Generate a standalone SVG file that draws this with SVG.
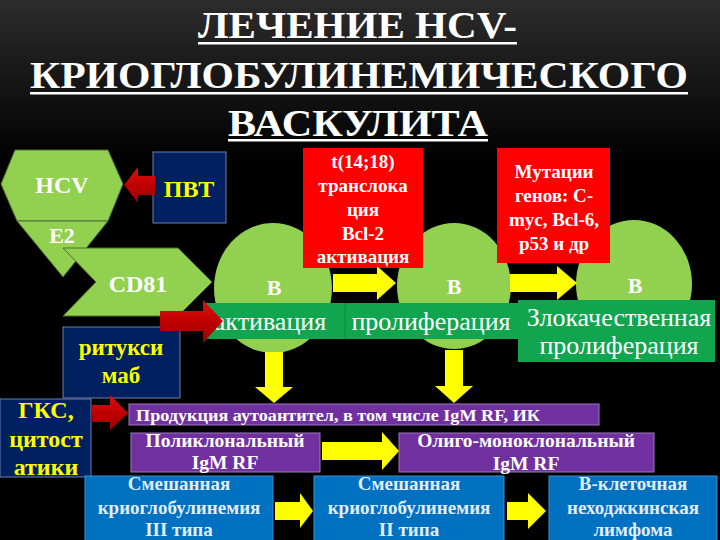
<svg xmlns="http://www.w3.org/2000/svg" width="720" height="540" viewBox="0 0 720 540" font-family="Liberation Serif, Times New Roman, serif">
<defs>
<linearGradient id="bg" x1="0" y1="0" x2="0" y2="540" gradientUnits="userSpaceOnUse">
<stop offset="0" stop-color="#2c2c2c"/>
<stop offset="0.3" stop-color="#000"/>
<stop offset="1" stop-color="#000"/>
</linearGradient>
<linearGradient id="redArr" x1="0" y1="0" x2="0" y2="1">
<stop offset="0" stop-color="#e01010"/>
<stop offset="0.5" stop-color="#c00000"/>
<stop offset="1" stop-color="#9a0000"/>
</linearGradient>
<style>
text{font-family:"Liberation Serif",serif}
.t{font-weight:bold;text-anchor:middle}
.w{fill:#fff}
.y{fill:#ffff00}
.lb{fill:#e2eefa}
.band{font-size:26px;fill:#fff;text-anchor:middle}
.title{font-weight:bold;font-size:38px;fill:#fff}
.leaf{fill:#92d050}
.shape{fill:#92d050;stroke:#4f6f2f;stroke-width:1}
.red{fill:#ff0000}
.navy{fill:#002060;stroke:#6f7fa8;stroke-width:1}
.purple{fill:#7030a0;stroke:#9a78c0;stroke-width:1}
.blue{fill:#0070c0;stroke:#3d8fd0;stroke-width:1}
.green{fill:#12a550}
.ya{fill:#ffff00}
.ra{fill:url(#redArr)}
</style>
</defs>
<rect x="0" y="0" width="720" height="540" fill="url(#bg)"/>

<g id="title">
<text class="title" x="198" y="38" textLength="319" lengthAdjust="spacingAndGlyphs">ЛЕЧЕНИЕ HCV-</text>
<rect x="198" y="42" width="319" height="2.5" fill="#fff"/>
<text class="title" x="30" y="88" textLength="658" lengthAdjust="spacingAndGlyphs">КРИОГЛОБУЛИНЕМИЧЕСКОГО</text>
<rect x="30" y="92" width="658" height="2.5" fill="#fff"/>
<text class="title" x="228" y="136" textLength="260" lengthAdjust="spacingAndGlyphs">ВАСКУЛИТА</text>
<rect x="228" y="139" width="260" height="2.5" fill="#fff"/>
</g>

<g id="cell1"><ellipse class="leaf" cx="273" cy="288" rx="59" ry="65"/><text class="t w" x="274" y="295" font-size="22">B</text></g>
<g id="cell2"><ellipse class="leaf" cx="454" cy="286" rx="57" ry="63"/><text class="t w" x="454" y="294" font-size="22">B</text></g>
<g id="cell3"><ellipse class="leaf" cx="634" cy="284" rx="58" ry="64"/><text class="t w" x="635" y="293" font-size="22">B</text></g>

<g id="hcv">
<polygon class="shape" points="15,150 108,150 123,184 108,221 17,221 1,184"/>
<text class="t w" x="62" y="193" font-size="24">HCV</text>
</g>
<g id="e2">
<polygon class="shape" points="17,221 108,221 63,277"/>
<text class="t w" x="62" y="243" font-size="22">E2</text>
</g>
<g id="cd81">
<polygon class="shape" points="63,248 178,248 212,282 178,316 63,316 96,282"/>
<text class="t w" x="138" y="292" font-size="24">CD81</text>
</g>

<g id="pvt">
<rect class="navy" x="153" y="152" width="73" height="71"/>
<text class="t y" x="189" y="197" font-size="24">ПВТ</text>
</g>

<g id="rituximab">
<rect class="navy" x="63" y="327" width="117" height="71"/>
<text class="t y" x="121" y="355" font-size="23">ритукси</text>
<text class="t y" x="121" y="383" font-size="23">маб</text>
</g>

<g id="gks">
<rect class="navy" x="0" y="399" width="91" height="78"/>
<text class="t y" x="46" y="418" font-size="24">ГКС,</text>
<text class="t y" x="46" y="447" font-size="24">цитост</text>
<text class="t y" x="46" y="475" font-size="24">атики</text>
</g>

<g id="translocation">
<rect class="red" x="303" y="148" width="120" height="120"/>
<text class="t w" x="363" y="168" font-size="19">t(14;18)</text>
<text class="t w" x="363" y="192" font-size="19">транслока</text>
<text class="t w" x="363" y="216" font-size="19">ция</text>
<text class="t w" x="363" y="240" font-size="19">Bcl-2</text>
<text class="t w" x="363" y="263" font-size="19">активация</text>
</g>

<g id="mutations">
<rect class="red" x="497" y="148" width="113" height="115"/>
<text class="t w" x="554" y="178" font-size="19">Мутации</text>
<text class="t w" x="554" y="202" font-size="19">генов: C-</text>
<text class="t w" x="554" y="226" font-size="19">myc, Bcl-6,</text>
<text class="t w" x="554" y="250" font-size="19">p53 и др</text>
</g>

<g id="activation">
<rect class="green" x="205" y="303" width="140" height="36"/>
<text class="band" x="270" y="330">активация</text>
</g>
<g id="proliferation">
<rect class="green" x="345" y="303" width="173" height="36"/>
<line x1="345" y1="303" x2="345" y2="339" stroke="#0b8a42" stroke-width="1"/>
<text class="band" x="431" y="330">пролиферация</text>
</g>
<g id="malignant">
<rect class="green" x="518" y="300" width="197" height="62"/>
<text class="band" x="619" y="326">Злокачественная</text>
<text class="band" x="619" y="354">пролиферация</text>
</g>

<g id="autoantibodies">
<rect class="purple" x="129" y="404" width="470" height="21"/>
<text class="t w" x="136" y="421" font-size="17" style="text-anchor:start" textLength="404" lengthAdjust="spacingAndGlyphs">Продукция аутоантител, в том числе IgM RF, ИК</text>
</g>
<g id="polyclonal">
<rect class="purple" x="131" y="433" width="189" height="39"/>
<text class="t w" x="225" y="447" font-size="19.5">Поликлональный</text>
<text class="t w" x="225" y="469" font-size="19.5">IgM RF</text>
</g>
<g id="oligoclonal">
<rect class="purple" x="399" y="433" width="255" height="39"/>
<text class="t w" x="526" y="447" font-size="19.5">Олиго-моноклональный</text>
<text class="t w" x="526" y="470" font-size="19.5">IgM RF</text>
</g>

<g id="cryo3">
<rect class="blue" x="85" y="476" width="188" height="70"/>
<text class="t lb" x="179" y="490" font-size="19">Смешанная</text>
<text class="t lb" x="179" y="514" font-size="19">криоглобулинемия</text>
<text class="t lb" x="179" y="536" font-size="19">III типа</text>
</g>
<g id="cryo2">
<rect class="blue" x="314" y="476" width="190" height="70"/>
<text class="t lb" x="409" y="490" font-size="19">Смешанная</text>
<text class="t lb" x="409" y="514" font-size="19">криоглобулинемия</text>
<text class="t lb" x="409" y="536" font-size="19">II типа</text>
</g>
<g id="lymphoma">
<rect class="blue" x="549" y="476" width="168" height="70"/>
<text class="t lb" x="633" y="490" font-size="19">B-клеточная</text>
<text class="t lb" x="633" y="514" font-size="19">неходжкинская</text>
<text class="t lb" x="633" y="536" font-size="19">лимфома</text>
</g>

<g id="connectors">
<polygon class="ra" points="155,176 138,176 138,167 124,185 138,203 138,195 155,195"/>
<polygon class="ra" points="160,311 203,311 203,300 223,321 203,343 203,331 160,331"/>
<polygon class="ra" points="91,405 110,405 110,395 128,413 110,430 110,422 91,422"/>
<polygon class="ya" points="333,274 377,274 377,266 396,283 377,300 377,292 333,292"/>
<polygon class="ya" points="510,274 557,274 557,266 577,283 557,300 557,292 510,292"/>
<polygon class="ya" points="265,352 283,352 283,387 293,387 274,403 255,387 265,387"/>
<polygon class="ya" points="445,350 463,350 463,386 473,386 454,403 435,386 445,386"/>
<polygon class="ya" points="322,442 382,442 382,432 399,451 382,470 382,460 322,460"/>
<polygon class="ya" points="275,502 300,502 300,493 313,511 300,528 300,520 275,520"/>
<polygon class="ya" points="507,502 528,502 528,493 546,511 528,529 528,520 507,520"/>
</g>
</svg>
